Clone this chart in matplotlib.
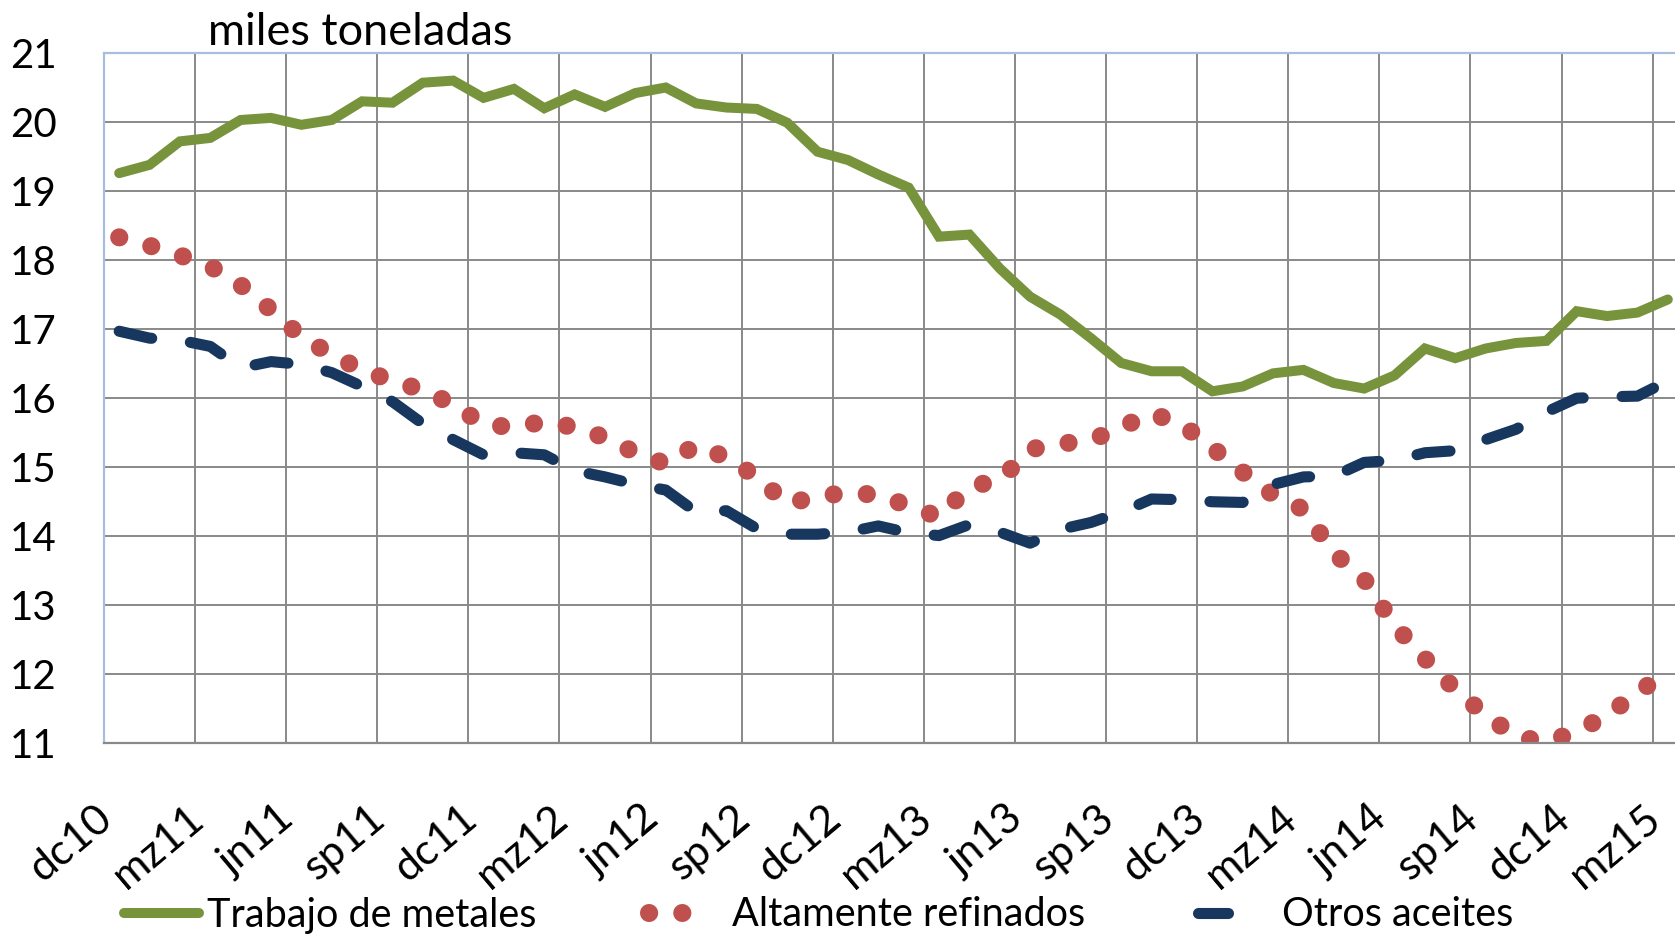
import numpy as np
import matplotlib
matplotlib.use('Agg')
import matplotlib.pyplot as plt
import matplotlib.transforms as mtransforms
from matplotlib.lines import Line2D

plt.rcParams['font.family'] = ['Lato', 'DejaVu Sans']

### DATA ######################################################################

# monthly, dc10 .. mz15 (52 months), labels every 3 months
meses = ['dc10', 'mz11', 'jn11', 'sp11', 'dc11', 'mz12', 'jn12', 'sp12', 'dc12',
         'mz13', 'jn13', 'sp13', 'dc13', 'mz14', 'jn14', 'sp14', 'dc14', 'mz15']

metales = [19.26, 19.38, 19.72, 19.77, 20.03, 20.06, 19.96, 20.03, 20.30, 20.28,
           20.57, 20.60, 20.35, 20.48, 20.20, 20.40, 20.22, 20.42, 20.50, 20.27,
           20.21, 20.19, 19.99, 19.57, 19.45, 19.24, 19.05, 18.34, 18.37, 17.88,
           17.47, 17.21, 16.87, 16.51, 16.39, 16.39, 16.10, 16.17, 16.36, 16.41,
           16.22, 16.14, 16.33, 16.72, 16.58, 16.72, 16.80, 16.83, 17.26, 17.19,
           17.24, 17.43]

refinados = [18.33, 18.21, 18.07, 17.91, 17.64, 17.28, 16.89, 16.63, 16.41, 16.25,
             16.12, 15.91, 15.62, 15.58, 15.66, 15.58, 15.43, 15.21, 15.05, 15.32,
             15.14, 14.86, 14.47, 14.58, 14.63, 14.60, 14.44, 14.28, 14.72, 14.81,
             15.26, 15.34, 15.39, 15.58, 15.78, 15.62, 15.28, 14.93, 14.60, 14.39,
             13.76, 13.38, 12.71, 12.23, 11.78, 11.41, 11.10, 11.02, 11.17, 11.41,
             11.73, 12.05]

otros = [16.97, 16.87, 16.84, 16.75, 16.44, 16.53, 16.49, 16.37, 16.17, 15.95,
         15.63, 15.40, 15.18, 15.21, 15.18, 14.95, 14.86, 14.75, 14.67, 14.35,
         14.37, 14.11, 14.03, 14.03, 14.06, 14.15, 14.05, 14.01, 14.17, 14.06,
         13.90, 14.10, 14.20, 14.35, 14.54, 14.53, 14.50, 14.49, 14.75, 14.86,
         14.87, 15.07, 15.10, 15.21, 15.24, 15.40, 15.55, 15.80, 16.00, 16.02,
         16.03, 16.25]

nombres = ['Trabajo de metales', 'Altamente refinados', 'Otros aceites']

### FIGURE ####################################################################

W, H = 1675, 936
fig = plt.figure(figsize=(W / 100, H / 100), dpi=100)
# plot area runs a bit past the right edge, like the cropped original
ax = fig.add_axes([104 / W, (H - 743.4) / H, (1683 - 104) / W, (743.4 - 53) / H])

x = np.arange(len(metales))
verde = '#77933C'
rojo = '#C0504D'
azul = '#17375E'
gris = '#898989'
fs = 29

ax.plot(x, metales, color=verde, lw=7.2, solid_capstyle='round',
        solid_joinstyle='miter')
ax.plot(x, refinados, color=rojo, lw=13, linestyle=(0, (0.01, 1.83)),
        dash_capstyle='round')
ax.plot(x, otros, color=azul, lw=8, linestyle=(0, (3.0, 3.5)),
        dash_capstyle='round')

ax.set_xlim(-0.5, len(x) - 0.5)
ax.set_ylim(11, 21)
ax.set_yticks(range(11, 22))
ax.set_xticks(x[::3])
ax.set_xticklabels(meses, rotation=40, ha='right')
ax.set_xticks(np.arange(-0.5, len(x), 3), minor=True)

# nudge the rotated month labels to the right a little
shift = mtransforms.ScaledTranslation(16 / 100, 0, fig.dpi_scale_trans)
for lab in ax.get_xticklabels():
    lab.set_transform(lab.get_transform() + shift)

ax.grid(which='minor', axis='x', color=gris, lw=1.4)
ax.grid(which='major', axis='y', color=gris, lw=1.4)
ax.set_axisbelow(True)
ax.tick_params(which='both', length=0)
ax.tick_params(axis='y', pad=34, labelsize=fs)
ax.tick_params(axis='x', pad=40, labelsize=31)

for s in ['left', 'top']:
    ax.spines[s].set_color('#A7BEDE')
    ax.spines[s].set_linewidth(1.6)
ax.spines['bottom'].set_color(gris)
ax.spines['bottom'].set_linewidth(1.6)
ax.spines['right'].set_visible(False)

fig.text(208 / W, (H - 45) / H, 'miles toneladas', fontsize=32.5, va='baseline')

# legend swatches like the original: two dots, one dash
h1 = Line2D([], [], color=verde, lw=7.2, solid_capstyle='round')
h2 = Line2D([], [], color=rojo, lw=13, linestyle=(0, (0.01, 1.83, 0.01, 20)),
            dash_capstyle='round')
h3 = Line2D([], [], color=azul, lw=8, linestyle=(0, (2.7, 20)),
            dash_capstyle='round')
fig.legend([h1, h2, h3], nombres, ncol=3, loc='center left',
           bbox_to_anchor=(124 / W, (H - 915) / H), frameon=False,
           fontsize=28.5, handlelength=1.9, handletextpad=0.2,
           columnspacing=2.85, borderpad=0, borderaxespad=0)

fig.savefig('out.png', dpi=100)
